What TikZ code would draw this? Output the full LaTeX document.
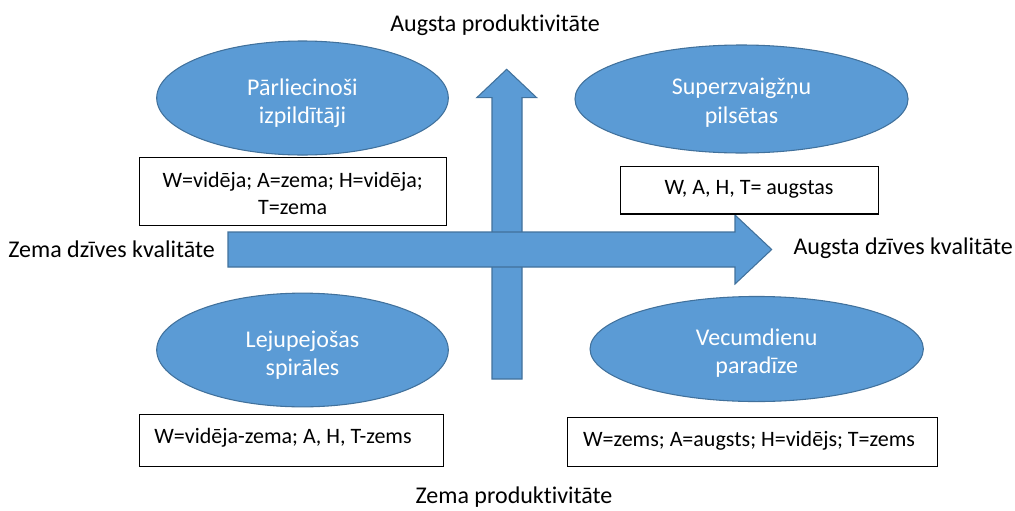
\documentclass[tikz,border=0pt]{standalone}
\usepackage{fontspec}
\setmainfont{Carlito}[Ligatures=NoCommon]
\usetikzlibrary{shapes.geometric}
\definecolor{fillblue}{HTML}{5B9BD5}
\definecolor{edgeblue}{HTML}{41719C}
\begin{document}
\begin{tikzpicture}[x=0.75pt,y=-0.75pt,
  blob/.style={ellipse, draw=edgeblue, fill=fillblue, line width=0.8pt, inner sep=0pt},
  blobtext/.style={inner sep=0pt, text=white, align=center, font=\fontsize{18}{21.5}\selectfont},
  infobox/.style={rectangle, draw=black, line width=0.8pt, fill=white, inner sep=0pt},
  boxtext/.style={inner sep=0pt, align=center, font=\fontsize{16.5}{20}\selectfont},
  lbl/.style={inner sep=0pt, font=\fontsize{18}{21}\selectfont},
  bigarrow/.style={draw=edgeblue, fill=fillblue, line width=0.8pt}]
\useasboundingbox (0,0) rectangle (1015,511);
% arrows
\draw[bigarrow] (492,379) -- (492,97.7) -- (476.7,97.7) -- (506.7,69.3) -- (536.7,97.7)
  -- (522,97.7) -- (522,379) -- cycle;
\draw[bigarrow] (228,232) -- (735,232) -- (735,215) -- (771.7,249.5) -- (735,284)
  -- (735,267) -- (228,267) -- cycle;
% ellipses
\node[blob, minimum width=218.7pt, minimum height=85.5pt] (e1) at (302.5,98) {};
\node[blobtext] (e1t) at ([yshift=-4pt]e1.center) {Pārliecinoši\\izpildītāji};
\node[blob, minimum width=249.8pt, minimum height=81pt] (e2) at (741.5,99) {};
\node[blobtext] (e2t) at ([yshift=-3pt]e2.center) {Superzvaigžņu\\pilsētas};
\node[blob, minimum width=218.7pt, minimum height=85.3pt] (e3) at (302.5,350) {};
\node[blobtext] (e3t) at ([yshift=-4pt]e3.center) {Lejupejošas\\spirāles};
\node[blob, minimum width=250pt, minimum height=78.8pt] (e4) at (756.7,349) {};
\node[blobtext] (e4t) at ([yshift=-3pt]e4.center) {Vecumdienu\\paradīze};
% boxes
\node[infobox, minimum width=230pt, minimum height=50.8pt] (b1) at (292.7,191.2) {};
\node[boxtext] (b1t) at (292.7,193.5) {W=vidēja; A=zema; H=vidēja;\\T=zema};
\node[infobox, minimum width=193.7pt, minimum height=35.5pt] (b2) at (749.2,190.3) {};
\node[boxtext] (b2t) at (749,189) {W, A, H, T= augstas};
\node[infobox, minimum width=228pt, minimum height=38.8pt] (b3) at (291.3,440.8) {};
\node[boxtext, anchor=west] (b3t) at ([xshift=11.5pt]b3.west |- 0,437.5) {W=vidēja-zema; A, H, T-zems};
\node[infobox, minimum width=277.5pt, minimum height=36.8pt] (b4) at (752.3,442.2) {};
\node[boxtext, anchor=west] (b4t) at ([xshift=12pt]b4.west |- 0,441) {W=zems; A=augsts; H=vidējs; T=zems};
% axis labels
\node[lbl] (ttop) at (495,25) {Augsta produktivitāte};
\node[lbl] (tbot) at (514,497) {Zema produktivitāte};
\node[lbl, anchor=west] (tleft) at (8,249) {Zema dzīves kvalitāte};
\node[lbl, anchor=east] (tright) at (1013,248) {Augsta dzīves kvalitāte};
\end{tikzpicture}
\end{document}
